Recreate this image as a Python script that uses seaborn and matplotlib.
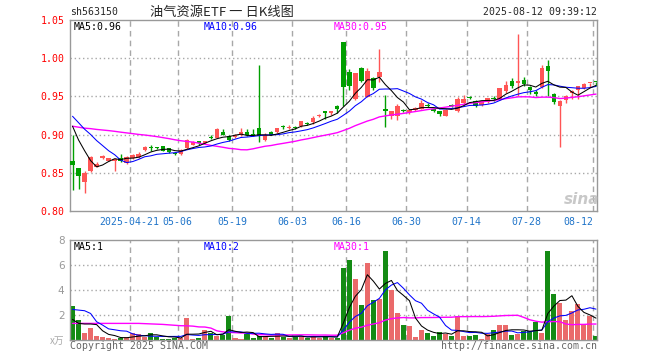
import numpy as np
import pandas as pd
import matplotlib
matplotlib.use("Agg")
import matplotlib.pyplot as plt
import seaborn as sns

# ---------------- data ----------------
opens = [0.865, 0.856, 0.838, 0.852, 0.858, 0.870, 0.866, 0.866, 0.869, 0.863,
         0.869, 0.871, 0.880, 0.884, 0.883, 0.885, 0.882, 0.876, 0.874, 0.882,
         0.887, 0.891, 0.889, 0.897, 0.896, 0.904, 0.898, 0.897, 0.899, 0.904,
         0.901, 0.908, 0.893, 0.904, 0.903, 0.911, 0.909, 0.910, 0.911, 0.915,
         0.9166, 0.925, 0.9307, 0.928, 0.938, 1.021, 0.982, 0.946, 0.987, 0.9495,
         0.974, 0.975, 0.933, 0.924, 0.924, 0.932, 0.930, 0.932, 0.934, 0.939,
         0.933, 0.931, 0.925, 0.938, 0.931, 0.941, 0.948, 0.9434, 0.9386, 0.943,
         0.948, 0.9455, 0.957, 0.970, 0.968, 0.972, 0.962, 0.956, 0.962, 0.9895,
         0.9526, 0.9376, 0.9455, 0.954, 0.9587, 0.961, 0.967, 0.9690]
highs = [0.900, 0.856, 0.853, 0.872, 0.864, 0.873, 0.870, 0.869, 0.874, 0.872,
         0.874, 0.877, 0.885, 0.886, 0.884, 0.885, 0.882, 0.876, 0.881, 0.894,
         0.891, 0.892, 0.892, 0.899, 0.908, 0.907, 0.899, 0.901, 0.908, 0.907,
         0.907, 0.991, 0.902, 0.905, 0.909, 0.913, 0.912, 0.911, 0.918, 0.916,
         0.924, 0.927, 0.931, 0.931, 0.939, 1.021, 0.986, 0.981, 0.988, 0.987,
         0.975, 1.012, 0.952, 0.931, 0.9395, 0.933, 0.932, 0.936, 0.945, 0.941,
         0.934, 0.931, 0.933, 0.940, 0.9487, 0.9517, 0.950, 0.945, 0.944, 0.948,
         0.950, 0.961, 0.9705, 0.9745, 1.032, 0.975, 0.963, 0.958, 0.991, 0.9978,
         0.955, 0.945, 0.952, 0.958, 0.964, 0.968, 0.968, 0.969]
lows = [0.827, 0.829, 0.823, 0.851, 0.857, 0.868, 0.865, 0.853, 0.864, 0.861,
        0.868, 0.870, 0.879, 0.879, 0.881, 0.878, 0.876, 0.873, 0.873, 0.881,
        0.886, 0.887, 0.888, 0.894, 0.895, 0.899, 0.892, 0.896, 0.898, 0.898,
        0.898, 0.890, 0.892, 0.899, 0.902, 0.907, 0.907, 0.907, 0.910, 0.912,
        0.914, 0.923, 0.920, 0.926, 0.928, 0.937, 0.959, 0.945, 0.969, 0.949,
        0.959, 0.969, 0.9105, 0.921, 0.919, 0.929, 0.927, 0.931, 0.933, 0.936,
        0.930, 0.9245, 0.924, 0.936, 0.930, 0.940, 0.946, 0.936, 0.938, 0.942,
        0.944, 0.945, 0.9543, 0.9605, 0.950, 0.963, 0.953, 0.951, 0.961, 0.951,
        0.940, 0.884, 0.941, 0.946, 0.947, 0.960, 0.962, 0.964]
closes = [0.860, 0.846, 0.850, 0.871, 0.862, 0.872, 0.869, 0.868, 0.865, 0.871,
          0.873, 0.875, 0.884, 0.883, 0.882, 0.879, 0.877, 0.874, 0.880, 0.8935,
          0.890, 0.889, 0.891, 0.896, 0.907, 0.900, 0.893, 0.900, 0.903, 0.899,
          0.899, 0.898, 0.899, 0.900, 0.908, 0.910, 0.910, 0.909, 0.9175, 0.914,
          0.922, 0.926, 0.928, 0.931, 0.933, 0.962, 0.964, 0.980, 0.970, 0.983,
          0.9605, 0.9824, 0.931, 0.931, 0.9376, 0.931, 0.932, 0.935, 0.941, 0.938,
          0.931, 0.927, 0.932, 0.937, 0.9465, 0.9465, 0.9475, 0.9376, 0.944, 0.9478,
          0.947, 0.9605, 0.965, 0.963, 0.970, 0.9666, 0.9587, 0.953, 0.987, 0.9837,
          0.943, 0.944, 0.951, 0.957, 0.963, 0.966, 0.9675, 0.9684]
volumes = [2.72, 1.6, 0.56, 0.96, 0.32, 0.24, 0.16, 0.1, 0.16, 0.24,
           0.56, 0.48, 0.24, 0.56, 0.24, 0.12, 0.12, 0.16, 0.16, 1.76,
           0.12, 0.2, 0.8, 0.6, 0.36, 0.4, 1.95, 0.2, 0.12, 0.5,
           0.2, 0.32, 0.24, 0.2, 0.56, 0.28, 0.2, 0.28, 0.24, 0.2,
           0.32, 0.2, 0.36, 0.15, 0.2, 5.79, 6.43, 4.91, 2.8, 6.19,
           3.2, 3.28, 7.15, 4.0, 2.19, 1.23, 1.15, 0.24, 0.8, 0.56,
           0.32, 0.64, 0.48, 0.32, 1.92, 0.32, 0.32, 0.4, 0.12, 0.48,
           0.8, 1.2, 1.2, 0.4, 0.48, 0.72, 0.72, 1.44, 0.56, 7.15,
           3.68, 2.96, 1.6, 2.32, 2.88, 1.28, 1.95, 0.32]
# closes / volumes of the 29 sessions before the window (estimated from
# where the moving-average lines enter the chart)
prior_closes = [0.885, 0.888, 0.890, 0.893, 0.895, 0.892, 0.896, 0.898, 0.900, 0.903,
                0.905, 0.908, 0.912, 0.915, 0.918, 0.916, 0.920, 0.918, 0.921, 0.917,
                0.930, 0.935, 0.940, 0.942, 0.938, 0.936, 0.920, 0.936, 0.903]
prior_volumes = [1.6, 0.56, 0.96, 0.32, 0.24, 0.16, 0.12, 0.16, 0.24, 0.56,
                 0.48, 0.84, 1.16, 0.84, 0.72, 1.2, 1.2, 1.2, 2.0, 0.87,
                 2.1, 1.06, 3.16, 6.92, 2.94, 3.2, 0.81, 0.96, 0.56]

start_date = "2025-04-07"
end_date = "2025-08-12"
holidays = ["2025-05-01", "2025-05-02", "2025-05-05", "2025-06-02"]
tick_dates = ["2025-04-21", "2025-05-06", "2025-05-19", "2025-06-03", "2025-06-16",
              "2025-06-30", "2025-07-14", "2025-07-28", "2025-08-12"]
tick_labels = ["2025-04-21", "05-06", "05-19", "06-03", "06-16",
               "06-30", "07-14", "07-28", "08-12"]
price_ticks = [0.80, 0.85, 0.90, 0.95, 1.00, 1.05]
vol_ticks = [2, 4, 6, 8]

code = "sh563150"
title = "油气资源ETF 一 日K线图"
stamp = "2025-08-12 09:39:12"

# ---------------- derived ----------------
UP, DOWN = "#ff5555", "#009f00"
GRID = "#a8a8a8"
dates = pd.bdate_range(start_date, end_date, freq="C", holidays=holidays)
n = len(closes)
x = np.arange(n)
o = np.array(opens); c = np.array(closes)
h = np.array(highs); l = np.array(lows)
v = np.array(volumes)
up = c >= o
col = np.where(up, UP, DOWN)

cs = pd.Series(prior_closes + closes)
vs = pd.Series(prior_volumes + volumes)
npri = len(prior_closes)
ma_p = {w: cs.rolling(w).mean().to_numpy()[npri:] for w in (5, 10, 30)}
ma_v = {w: vs.rolling(w).mean().to_numpy()[npri:] for w in (5, 10, 30)}

sns.set_style("white")
plt.rcParams["font.family"] = ["DejaVu Sans Mono", "Noto Sans CJK SC"]

W, H = 660, 360
fig = plt.figure(figsize=(W / 100, H / 100), dpi=100)

def fx(px): return px / W
def fy(py): return 1 - py / H

L, R = 70, 597
ax = fig.add_axes([fx(L), fy(211), fx(R - L), (211 - 20) / H])
axv = fig.add_axes([fx(L), fy(340), fx(R - L), (340 - 240) / H])

xlim = (-0.42, 87.17)

# ---- price panel ----
for yv in price_ticks[1:-1]:
    ax.axhline(yv, color=GRID, lw=1, ls=(0, (1, 2)), zorder=0)
tick_idx = [dates.get_loc(pd.Timestamp(d)) for d in tick_dates]
for ti in tick_idx:
    ax.axvline(ti - 0.5, color=GRID, lw=1, ls=(0, (4, 3)), zorder=0)
    axv.axvline(ti - 0.5, color=GRID, lw=1, ls=(0, (4, 3)), zorder=0)

ax.vlines(x, l, h, colors=col, lw=1, zorder=2)
body_b = np.minimum(o, c)
body_h = np.maximum(np.abs(c - o), 0.0013)
ax.bar(x, body_h, bottom=body_b, width=0.74, color=col, linewidth=0, zorder=3)

sns.lineplot(x=x, y=ma_p[30], color="#ff00ff", lw=1.0, ax=ax, zorder=4)
sns.lineplot(x=x, y=ma_p[10], color="#0000ff", lw=0.75, ax=ax, zorder=5)
sns.lineplot(x=x, y=ma_p[5], color="black", lw=0.75, ax=ax, zorder=6)

ax.set_xlim(*xlim)
ax.set_ylim(price_ticks[0], price_ticks[-1])
ax.set_yticks(price_ticks)
ax.set_yticklabels([f"{t:.2f}" for t in price_ticks], color="#ff0000", fontsize=7.1)
ax.set_xticks([ti - 0.5 for ti in tick_idx])
ax.set_xticklabels(tick_labels, color="#1f74c9", fontsize=7.1)
ax.get_xticklabels()[-1].set_horizontalalignment("right")
ax.tick_params(length=0, pad=4)
for s in ax.spines.values():
    s.set_color("#999999"); s.set_linewidth(1)
ax.set_xlabel(""); ax.set_ylabel("")

# ---- volume panel ----
for yv in vol_ticks[:-1]:
    axv.axhline(yv, color=GRID, lw=1, ls=(0, (1, 2)), zorder=0)
vdf = pd.DataFrame({"x": x, "vol": v, "dir": np.where(up, "up", "down")})
sns.barplot(data=vdf, x="x", y="vol", hue="dir", palette={"up": UP, "down": DOWN},
            dodge=False, width=0.84, errorbar=None, legend=False, linewidth=0,
            native_scale=True, ax=axv, zorder=2)
sns.lineplot(x=x, y=ma_v[30], color="#ff00ff", lw=1.0, ax=axv, zorder=4)
sns.lineplot(x=x, y=ma_v[10], color="#0000ff", lw=0.75, ax=axv, zorder=5)
sns.lineplot(x=x, y=ma_v[5], color="black", lw=0.75, ax=axv, zorder=6)
axv.set_xlim(*xlim)
axv.set_ylim(0, 8)
axv.set_yticks(vol_ticks)
axv.set_yticklabels([str(t) for t in vol_ticks], color="#999999", fontsize=7.5,
                    family="DejaVu Sans")
axv.set_xticks([])
axv.tick_params(length=0, pad=4)
for s in axv.spines.values():
    s.set_color("#999999"); s.set_linewidth(1)
axv.set_xlabel(""); axv.set_ylabel("")

# ---- texts ----
fs = 7.1
fig.text(fx(70), fy(12), code, fontsize=fs, va="center", ha="left")
fig.text(fx(222), fy(12), title, fontsize=9.5, va="center", ha="center",
         family=["Noto Sans CJK SC", "DejaVu Sans"])
fig.text(fx(597), fy(12), stamp, fontsize=fs, va="center", ha="right")

fig.text(fx(74), fy(27), f"MA5:{ma_p[5][-1]:.2f}", fontsize=fs, va="center", color="black")
fig.text(fx(204), fy(27), f"MA10:{ma_p[10][-1]:.2f}", fontsize=fs, va="center", color="#0000ff")
fig.text(fx(334), fy(27), f"MA30:{ma_p[30][-1]:.2f}", fontsize=fs, va="center", color="#ff00ff")

fig.text(fx(74), fy(247), f"MA5:{int(ma_v[5][-1])}", fontsize=fs, va="center", color="black")
fig.text(fx(204), fy(247), f"MA10:{int(ma_v[10][-1])}", fontsize=fs, va="center", color="#0000ff")
fig.text(fx(334), fy(247), f"MA30:{int(ma_v[30][-1])}", fontsize=fs, va="center", color="#ff00ff")

fig.text(fx(64), fy(341), "x万", fontsize=7, va="center", ha="right", color="#aaaaaa",
         family=["Noto Sans CJK SC", "DejaVu Sans"], style="italic")
fig.text(fx(70), fy(346), "Copyright 2025 SINA.COM", fontsize=fs, va="center", ha="left",
         color="#666666")
fig.text(fx(597), fy(346), "http://finance.sina.com.cn", fontsize=fs, va="center", ha="right",
         color="#666666")
fig.text(fx(582), fy(200), "sina", fontsize=11, va="center", ha="center", color="#bbbbbb",
         style="italic", weight="bold", family="DejaVu Sans", alpha=0.8)

fig.savefig("out.png", dpi=100)
